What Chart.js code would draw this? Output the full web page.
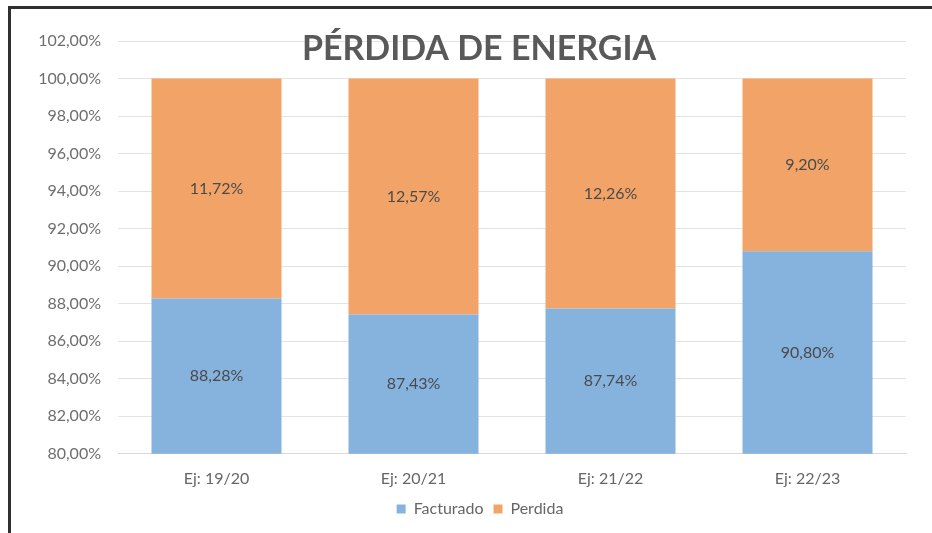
<!DOCTYPE html>
<html>
<head>
<meta charset="utf-8" />
<style>
  html, body { margin: 0; padding: 0; background: #fff; }
  #wrap { position: relative; width: 932px; height: 533px; }
  #frame { position: absolute; left: 8px; top: 6px; right: 0; bottom: 0; border-top: 3px solid #2f2f2f; border-left: 3px solid #2f2f2f; pointer-events: none; }
  canvas { position: absolute; left: 0; top: 0; }
</style>
</head>
<body>
<div id="wrap">
  <canvas id="c" width="932" height="533"></canvas>
  <div id="frame"></div>
</div>
<script src="https://cdn.jsdelivr.net/npm/chart.js@4.4.3/dist/chart.umd.min.js"></script>
<script>
const categories = ['Ej: 19/20', 'Ej: 20/21', 'Ej: 21/22', 'Ej: 22/23'];
const facturado = [88.28, 87.43, 87.74, 90.80];
const perdida = [11.72, 12.57, 12.26, 9.20];
const title = 'PÉRDIDA DE ENERGIA';

const fmt = (v) => v.toFixed(2).replace('.', ',') + '%';
const FONT = 'Lato, "Open Sans", sans-serif';

// labels in the middle of the visible part of each stacked segment
const segmentLabels = {
  id: 'segmentLabels',
  afterDatasetsDraw(chart) {
    const ctx = chart.ctx;
    const a = chart.chartArea;
    ctx.save();
    ctx.font = '16px ' + FONT;
    ctx.fillStyle = '#4a4a4a';
    ctx.textAlign = 'center';
    ctx.textBaseline = 'middle';
    chart.data.datasets.forEach((ds, i) => {
      chart.getDatasetMeta(i).data.forEach((bar, j) => {
        const p = bar.getProps(['x', 'y', 'base'], true);
        const top = Math.max(Math.min(p.y, p.base), a.top);
        const bottom = Math.min(Math.max(p.y, p.base), a.bottom);
        ctx.fillText(fmt(ds.data[j]), p.x, (top + bottom) / 2);
      });
    });
    ctx.restore();
  }
};

// title overlaid on top of the plot like Excel does
const overlayTitle = {
  id: 'overlayTitle',
  afterDraw(chart) {
    const ctx = chart.ctx;
    const a = chart.chartArea;
    ctx.save();
    ctx.font = 'bold 34px ' + FONT;
    ctx.fillStyle = '#595959';
    ctx.textAlign = 'center';
    ctx.textBaseline = 'middle';
    ctx.fillText(title, (a.left + a.right) / 2 - 33, a.top + 8);
    ctx.restore();
  }
};

// nudge the legend box a bit (Excel places it slightly right and tighter)
const legendNudge = {
  id: 'legendNudge',
  afterLayout(chart) {
    const lg = chart.legend;
    lg.left += 27; lg.right += 27;
    lg.top -= 12; lg.bottom -= 12;
  }
};

new Chart(document.getElementById('c'), {
  type: 'bar',
  data: {
    labels: categories,
    datasets: [
      { label: 'Facturado', data: facturado, backgroundColor: '#86b2de', borderWidth: 0 },
      { label: 'Perdida', data: perdida, backgroundColor: '#f2a468', borderWidth: 0 }
    ]
  },
  options: {
    responsive: false,
    animation: false,
    layout: { padding: { left: 0, right: 26, top: 41, bottom: -6 } },
    datasets: { bar: { categoryPercentage: 0.66, barPercentage: 1 } },
    scales: {
      x: {
        stacked: true,
        grid: { display: false, drawTicks: false },
        border: { color: '#d9d9d9' },
        ticks: { color: '#666', font: { family: FONT, size: 16 }, padding: 15 }
      },
      y: {
        stacked: true,
        min: 80,
        max: 102,
        afterFit(s) { s.width = 118; },
        border: { display: false },
        grid: { color: '#e3e3e3', drawTicks: false },
        ticks: { stepSize: 2, color: '#6e6e6e', font: { family: FONT, size: 16 }, padding: 17, callback: (v) => fmt(v) }
      }
    },
    plugins: {
      legend: {
        position: 'bottom',
        labels: { boxWidth: 9, boxHeight: 9, color: '#666', font: { family: FONT, size: 16 }, padding: 10 }
      },
      tooltip: { enabled: false }
    }
  },
  plugins: [segmentLabels, overlayTitle, legendNudge]
});
</script>
</body>
</html>
